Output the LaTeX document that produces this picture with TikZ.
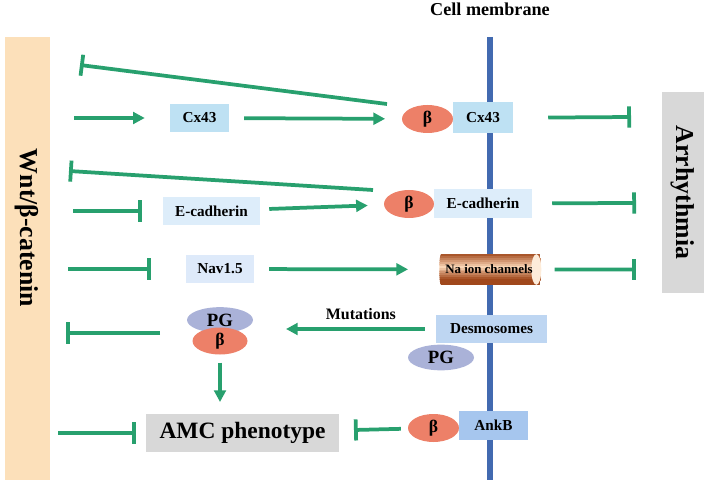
\documentclass[tikz,border=0pt]{standalone}
\usepackage{fontspec}
\setmainfont{Liberation Serif}
\usetikzlibrary{arrows.meta,shapes.geometric,calc}
\definecolor{linkgreen}{RGB}{40,160,110}
\definecolor{wntorange}{RGB}{252,224,186}
\definecolor{sidegray}{RGB}{216,216,216}
\definecolor{memblue}{RGB}{66,106,176}
\definecolor{betared}{RGB}{237,128,104}
\definecolor{pgblue}{RGB}{170,178,216}
\definecolor{cxblue}{RGB}{190,225,243}
\definecolor{ecadblue}{RGB}{221,237,250}
\definecolor{navblue}{RGB}{222,234,250}
\definecolor{desmoblue}{RGB}{190,214,242}
\definecolor{ankblue}{RGB}{166,198,238}
\definecolor{nabrown}{RGB}{160,72,28}
\definecolor{naorange}{RGB}{250,214,182}
\definecolor{nacream}{RGB}{253,236,218}
\begin{document}
\begin{tikzpicture}[x=0.03cm, y=-0.03cm, act/.style={draw=linkgreen, line width=3.2pt, -{Triangle[length=10pt,width=10pt]}}, inh/.style={draw=linkgreen, line width=3.2pt, -{Bar[width=18pt]}},
box node/.style={rectangle,inner sep=0pt,minimum height=.84cm,font=\fontsize{13}{15}\selectfont\bfseries}, beta node/.style={ellipse,fill=betared,inner sep=0pt,minimum width=1.53cm,minimum height=.84cm,font=\fontsize{15}{15}\selectfont\bfseries},
pg node/.style={ellipse,fill=pgblue,inner sep=0pt,minimum width=1.98cm,minimum height=.77cm,font=\fontsize{16}{16}\selectfont\bfseries}, side node/.style={rectangle,inner sep=0pt,rotate=-90,font=\fontsize{22}{24}\selectfont\bfseries}]%draw=red,
\useasboundingbox (0,0) rectangle (706,483);
% membrane
\coordinate (mtop) at (490,37);
\coordinate (mbot) at (490,480);
\draw[memblue, line width=5pt] (mtop) -- (mbot);
\begin{scope}
\node[rectangle,fill=wntorange,inner sep=0pt,minimum width=1.35cm,minimum height=13.29cm] (wnt) at (27.5,258.5) {};
\node[side node] (wntlbl) at (27,228) {Wnt/β-catenin};
\node[side node,fill=sidegray,minimum width=6.03cm,minimum height=1.26cm] (arr) at (683,192.5) {Arrhythmia};
\node[font=\fontsize{15.5}{17}\selectfont\bfseries] (mem) at (490,9) {Cell membrane};
% row Cx43
\node[box node,fill=cxblue,minimum width=1.77cm] (cx1) at (199.5,118) {Cx43};
\node[beta node] (b1) at (427.5,119) {β};
\node[box node,fill=cxblue,minimum width=1.8cm,minimum height=.93cm] (cx2) at (483,118) {Cx43};
% row E-cadherin
\node[box node,fill=ecadblue,minimum width=2.91cm] (ec1) at (211.5,211) {E-cadherin};
\node[beta node,minimum width=1.5cm] (b2) at (409,204) {β};
\node[box node,fill=ecadblue,minimum width=2.94cm,minimum height=.87cm] (ec2) at (483,203.5) {E-cadherin};
% row Nav1.5
\node[box node,fill=navblue,minimum width=2.04cm] (nav) at (220,269) {Nav1.5};
\node[cylinder,aspect=.3,inner sep=1pt,minimum width=.92cm,minimum height=3.06cm,font=\fontsize{11}{13}\selectfont\bfseries,
  path picture={\foreach \i in {0,...,15}{\pgfmathsetmacro\p{max(0,100-abs(\i-6)*15)}\pgfmathsetmacro\q{min(1,(\i+1.4)/16)}
    \fill[naorange!\p!nabrown] ($(path picture bounding box.north west)!\i/16!(path picture bounding box.south west)$) rectangle ($(path picture bounding box.north east)!\q!(path picture bounding box.south east)$);}
  \fill[nacream] ([xshift=-.15cm]path picture bounding box.east) ellipse (.15cm and .46cm);}] (na) at (489,269.5) {Na ion channels};
% row desmosomes
\node[box node,fill=desmoblue,minimum width=3.33cm] (desmo) at (491.5,329) {Desmosomes};
\node[pg node] (pg2) at (441,357.5) {PG};
\node[pg node] (pg1) at (220,320) {PG};
\node[beta node,minimum width=1.65cm,minimum height=.81cm] (b3) at (220,341) {β};
% row AMC
\node[box node,fill=sidegray,minimum width=5.79cm,minimum height=1.14cm,font=\fontsize{20}{22}\selectfont\bfseries] (amc) at (242.5,433) {AMC phenotype};
\node[beta node] (b4) at (433.5,428) {β};
\node[box node,fill=ankblue,minimum width=2.07cm,minimum height=.87cm] (ankb) at (493.5,425.5) {AnkB};
\end{scope}
\begin{scope}
\coordinate (c1) at (387,104);
\coordinate (w1) at (80,65);
\coordinate (w2) at (74,118);
\coordinate (a1) at (631,117);
\coordinate (c3) at (373,190);
\coordinate (w3) at (69,171);
\coordinate (w4) at (73,211);
\coordinate (a2) at (636,203);
\coordinate (w5) at (68,269);
\coordinate (a3) at (636,269.5);
\coordinate (m1) at (286,329);
\coordinate (c6) at (160,333);
\coordinate (w6) at (66,333);
\coordinate (m2) at (220,402);
\coordinate (w7) at (58,433);
\coordinate (m3) at (354,430);
\draw (c1) edge[inh] (w1);
\draw (w2) edge[act,shorten >=.75cm] (cx1);
\draw (cx1) edge[act,shorten <=.45cm,shorten >=.5cm] (b1);
\draw (cx2) edge[inh,shorten <=1.05cm] (a1);
\draw (c3) edge[inh] (w3);
\draw (w4) edge[inh,shorten >=.63cm] (ec1);
\draw (ec1) edge[act,shorten <=.27cm,shorten >=.48cm] (b2);
\draw (ec2) edge[inh,shorten <=.6cm] (a2);
\draw (w5) edge[inh,shorten >=1.05cm] (nav);
\draw (nav) edge[act,shorten <=.45cm,shorten >=.93cm] (na);
\draw (na) edge[inh,shorten <=.39cm] (a3);
\draw (desmo) edge[act,shorten <=.33cm] node[above=3pt,font=\fontsize{13.6}{15}\selectfont\bfseries] (mut) {Mutations} (m1);
\draw (c6) edge[inh] (w6);
\draw (b3) edge[act,shorten <=.24cm] (m2);
\draw (w7) edge[inh,shorten >=.3cm] (amc);
\draw (b4) edge[inh,shorten <=.21cm] (m3);
\end{scope}
\end{tikzpicture}
\end{document}
